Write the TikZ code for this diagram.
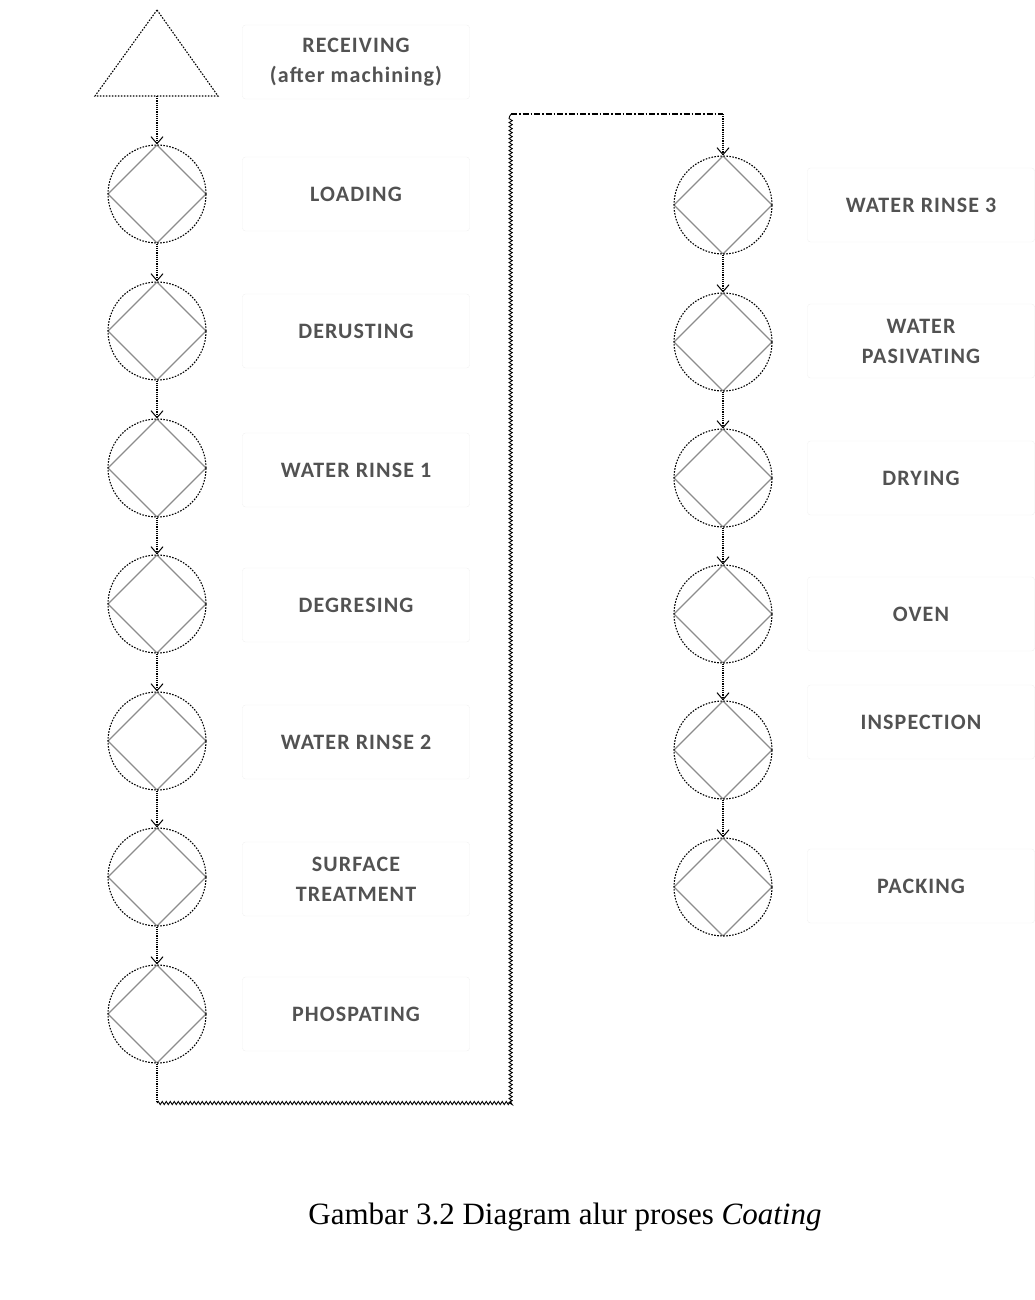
\documentclass[tikz,border=0pt]{standalone}
\usepackage{fontspec}
\setmainfont{Liberation Serif}
\newfontfamily\lblfont[LetterSpace=5]{Carlito}
\usetikzlibrary{positioning,arrows.meta,decorations.pathmorphing,calc}

\begin{document}
\begin{tikzpicture}[
  x=1pt, y=-1pt,
  opstep/.style={circle, draw=black, dash pattern=on 1.6pt off 1.4pt, line width=1.1pt, minimum size=98pt, inner sep=0pt,
    path picture={\draw[solid, black!45, line width=1.3pt]
      (path picture bounding box.north) -- (path picture bounding box.east) --
      (path picture bounding box.south) -- (path picture bounding box.west) -- cycle;}},
  lbl/.style={draw=black!6, rounded corners=3pt, minimum width=227pt, minimum height=74pt,
    text=black!68, align=center, font=\lblfont\bfseries\fontsize{22}{30}\selectfont},
  flow/.style={densely dotted, line width=1.2pt, -{Straight Barb[length=7pt,width=12pt,line width=1pt]}},
  dotline/.style={densely dotted, line width=1.2pt},
  wavy/.style={decorate, decoration={snake, amplitude=1.6pt, segment length=4pt}, line width=0.9pt},
  dashdotline/.style={dash pattern=on 6pt off 2pt on 1.5pt off 2pt, line width=1.2pt}
]
\useasboundingbox (0,0) rectangle (1035,1300);

% receiving
\draw[dash pattern=on 1.6pt off 1.4pt, line width=1.1pt] (157,10) -- (218,96) -- (95,96) -- cycle;
\coordinate (recv) at (157,96);
\node[lbl] (recvtxt) at (356,62) {RECEIVING\\(after machining)};

% left column
\node[opstep] (loading) at (157,194) {};
\node[opstep] (derusting) at (157,331) {};
\node[opstep] (rinse1) at (157,468) {};
\node[opstep] (degresing) at (157,604) {};
\node[opstep] (rinse2) at (157,741) {};
\node[opstep] (surface) at (157,877) {};
\node[opstep] (phospating) at (157,1014) {};

\node[lbl] (loadingtxt) at (356,194) {LOADING};
\node[lbl] (derustingtxt) at (356,331) {DERUSTING};
\node[lbl] (rinse1txt) at (356,470) {WATER RINSE 1};
\node[lbl] (degresingtxt) at (356,605) {DEGRESING};
\node[lbl] (rinse2txt) at (356,742) {WATER RINSE 2};
\node[lbl] (surfacetxt) at (356,879) {SURFACE\\TREATMENT};
\node[lbl] (phospatingtxt) at (356,1014) {PHOSPATING};

% right column
\node[opstep] (rinse3) at (723,205) {};
\node[opstep] (pasivating) at (723,342) {};
\node[opstep] (drying) at (723,478) {};
\node[opstep] (oven) at (723,614) {};
\node[opstep] (inspection) at (723,750) {};
\node[opstep] (packing) at (723,887) {};

\node[lbl] (rinse3txt) at (921,205) {WATER RINSE 3};
\node[lbl] (pasivatingtxt) at (921,341) {WATER\\PASIVATING};
\node[lbl] (dryingtxt) at (921,478) {DRYING};
\node[lbl] (oventxt) at (921,614) {OVEN};
\node[lbl] (inspectiontxt) at (921,722) {INSPECTION};
\node[lbl] (packingtxt) at (921,886) {PACKING};

% flow
\draw[flow] (recv) -- (loading.north);
\draw[flow] (loading) -- (derusting);
\draw[flow] (derusting) -- (rinse1);
\draw[flow] (rinse1) -- (degresing);
\draw[flow] (degresing) -- (rinse2);
\draw[flow] (rinse2) -- (surface);
\draw[flow] (surface) -- (phospating);

\coordinate (c1) at (157,1103);
\coordinate (c2) at (511,1103);
\coordinate (c3) at (511,114);
\coordinate (c4) at (723,114);
\draw[dotline] (phospating.south) -- (c1);
\draw[wavy] (c1) -- (c2) -- (c3);
\draw[dashdotline] (c3) -- (c4);
\draw[flow] (c4) -- (rinse3.north);

\draw[flow] (rinse3) -- (pasivating);
\draw[flow] (pasivating) -- (drying);
\draw[flow] (drying) -- (oven);
\draw[flow] (oven) -- (inspection);
\draw[flow] (inspection) -- (packing);

\node[font=\fontsize{31}{36}\selectfont] (caption) at (565,1217) {Gambar 3.2 Diagram alur proses \textit{Coating}};
\end{tikzpicture}
\end{document}
